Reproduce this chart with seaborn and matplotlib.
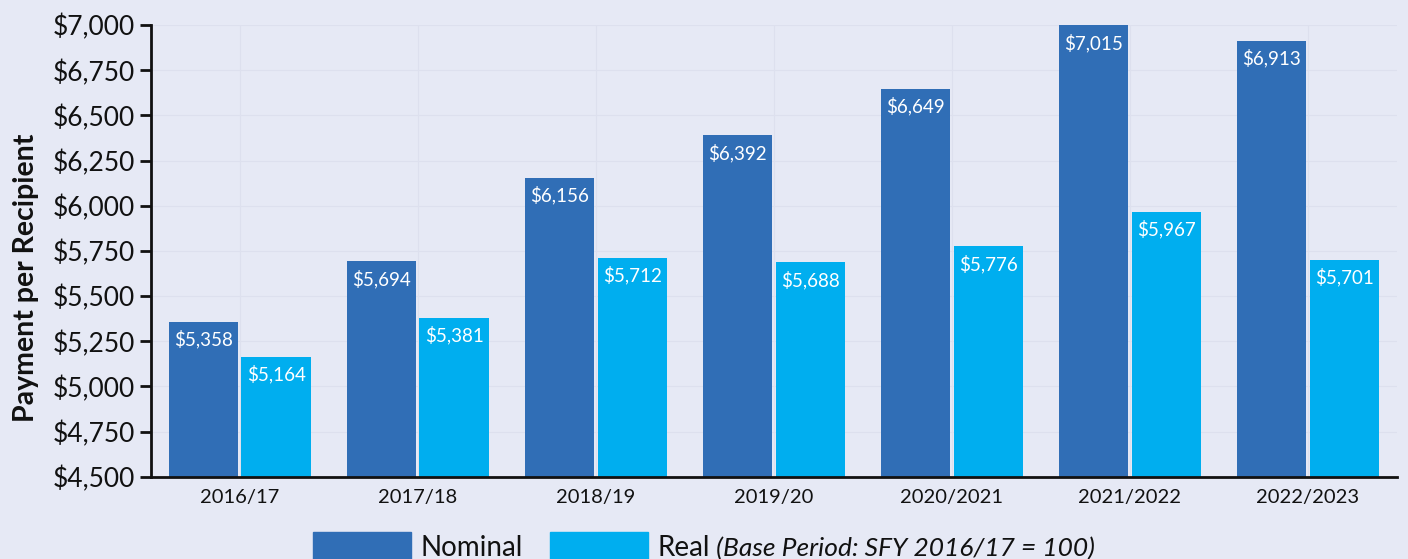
import numpy as np
import pandas as pd
import matplotlib.pyplot as plt
import matplotlib.patches as mpatches
from matplotlib.ticker import FuncFormatter, MultipleLocator, FixedLocator, NullFormatter
import seaborn as sns

# ── Dados ─────────────────────────────────────────────────────────────────────
periodos = ["2016/17", "2017/18", "2018/19", "2019/20",
            "2020/2021", "2021/2022", "2022/2023"]
nominal  = [5358, 5694, 6156, 6392, 6649, 7015, 6913]
real     = [5164, 5381, 5712, 5688, 5776, 5967, 5701]
series   = ["Nominal", "Real"]
nota_real = "(Base Period: SFY 2016/17 = 100)"

# ── Paleta ────────────────────────────────────────────────────────────────────
BG      = "#e6e9f5"
TEXT    = "#111111"
C_NOM   = "#306eb6"
C_REAL  = "#00aeef"
C_GRID  = "#dde0ee"
FONT    = "Lato"

sns.set_theme(style="white")
plt.rcParams["font.family"] = [FONT, "DejaVu Sans"]

df = pd.DataFrame({
    "Periodo": periodos * 2,
    "Valor":   nominal + real,
    "Serie":   [series[0]] * len(periodos) + [series[1]] * len(periodos),
})

fig = plt.figure(figsize=(14.08, 5.59), dpi=100, facecolor=BG)
ax = fig.add_axes([0.107, 0.147, 0.885, 0.808])
ax.set_facecolor(BG)

sns.barplot(
    data=df, x="Periodo", y="Valor", hue="Serie",
    palette=[C_NOM, C_REAL], width=0.82, gap=0.05,
    saturation=1, ax=ax, legend=False, linewidth=0, edgecolor="none",
)

ax.set_ylim(4500, 7000)
ax.set_xlim(-0.5, len(periodos) - 0.5)
ax.yaxis.set_major_locator(MultipleLocator(250))
ax.yaxis.set_major_formatter(FuncFormatter(lambda v, _: f"${v:,.0f}"))

# grade bem discreta
ax.grid(True, axis="both", color=C_GRID, linewidth=0.8)
ax.set_axisbelow(True)

# ticks: rótulos no centro, marcas entre os grupos
ax.tick_params(axis="x", which="major", length=0, labelsize=14.5, colors=TEXT, pad=9)
ax.xaxis.set_minor_locator(FixedLocator(np.arange(-0.5, len(periodos), 1.0)))
ax.xaxis.set_minor_formatter(NullFormatter())
ax.tick_params(axis="x", which="minor", length=9, width=2, color=TEXT, direction="out")
ax.tick_params(axis="y", length=8, width=2, color=TEXT, labelsize=19,
               labelcolor=TEXT, pad=3, left=True)

for s in ["top", "right"]:
    ax.spines[s].set_visible(False)
for s in ["bottom", "left"]:
    ax.spines[s].set_color(TEXT)
    ax.spines[s].set_linewidth(2)

ax.set_xlabel("")
ax.set_ylabel("Payment per Recipient", fontsize=20.5, fontweight="bold", color=TEXT)
ax.yaxis.set_label_coords(-0.09, 0.44)

# rótulos dentro das barras
for cont in ax.containers:
    for bar in cont:
        h = bar.get_height()
        ax.annotate(
            f"${h:,.0f}", xy=(bar.get_x() + bar.get_width() / 2, min(h, 7000)),
            xytext=(0, -6), textcoords="offset points",
            ha="center", va="top", color="white", fontsize=13.5,
        )

# ── Legenda (parte em itálico desenhada ao lado de "Real") ────────────────────
handles = [mpatches.Patch(color=C_NOM), mpatches.Patch(color=C_REAL)]
leg_y = -0.05
leg = fig.legend(
    handles, series, loc="lower center", bbox_to_anchor=(0.5, leg_y),
    ncol=2, frameon=False, fontsize=20, handlelength=3.5, handleheight=1.3,
    columnspacing=1.0, handletextpad=0.35, labelcolor=TEXT,
)
renderer = fig.canvas.get_renderer()
nota = fig.text(0, 0, " " + nota_real, fontsize=19, style="italic", color=TEXT,
                ha="left")
w_nota = nota.get_window_extent(renderer).width / fig.bbox.width
leg.set_bbox_to_anchor((0.5 - w_nota / 2, leg_y), transform=fig.transFigure)
fig.canvas.draw()
txt_real = leg.get_texts()[1]
bb = txt_real.get_window_extent(renderer)
x0 = fig.transFigure.inverted().transform((bb.x1, bb.y0))[0]
y_txt = fig.transFigure.inverted().transform(
    txt_real.get_transform().transform(txt_real.get_position()))[1]
nota.set_va(txt_real.get_va())
nota.set_position((x0, y_txt))

plt.savefig("out.png", dpi=100, facecolor=BG)
